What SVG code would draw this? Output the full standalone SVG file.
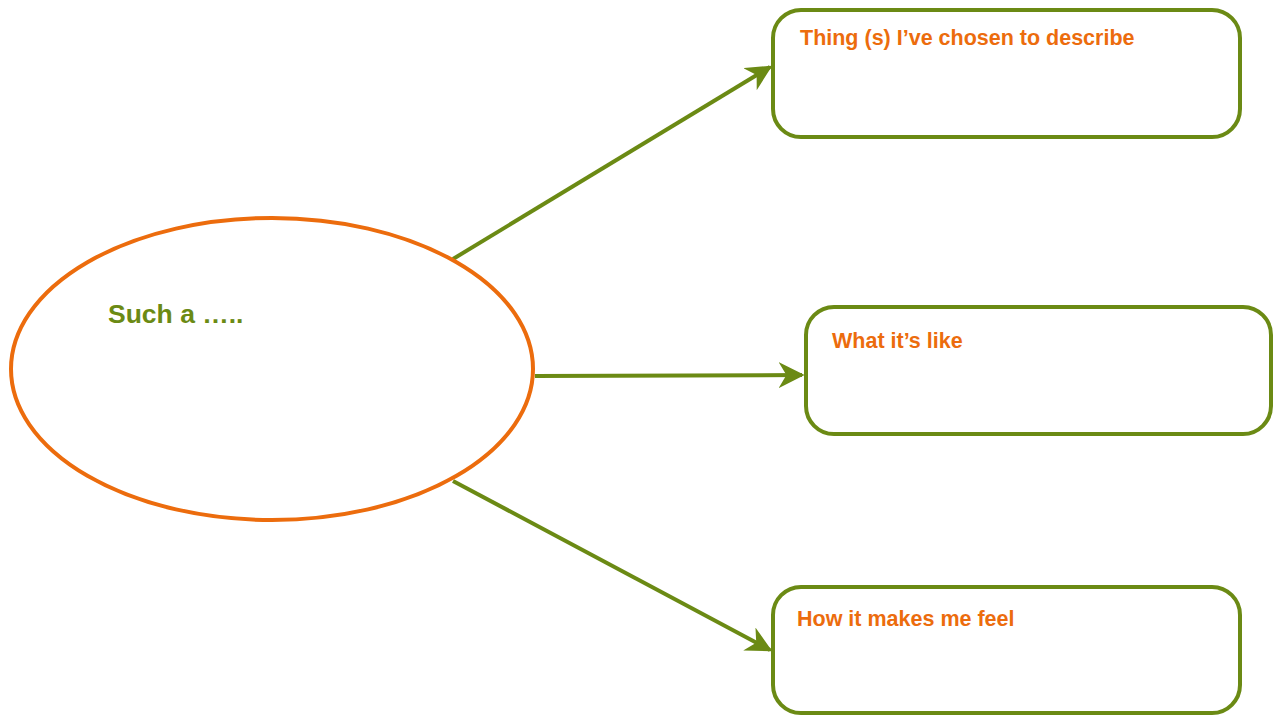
<svg xmlns="http://www.w3.org/2000/svg" width="1274" height="715" viewBox="0 0 1274 715">
<style>
.box{fill:#fff;stroke:#6B8A14;stroke-width:4}
.oval{fill:#fff;stroke:#EC6C0D;stroke-width:4}
.lbl{font-family:"Liberation Sans",Arial,sans-serif;font-weight:bold;font-size:21.5px;fill:#EC6C0D}
.main{font-family:"Liberation Sans",Arial,sans-serif;font-weight:bold;font-size:26.5px;fill:#6B8A14}
.conn{stroke:#6B8A14;stroke-width:4;fill:none}
</style>
<defs>
<marker id="ah" viewBox="0 0 10 10" refX="9" refY="5" markerWidth="6.5" markerHeight="6.5" markerUnits="strokeWidth" orient="auto">
<path d="M0,0 L10,5 L0,10 L3,5 Z" fill="#6B8A14"/>
</marker>
</defs>
<rect width="1274" height="715" fill="#fff"/>
<g id="connectors">
<line class="conn" x1="453" y1="259" x2="770" y2="67" marker-end="url(#ah)"/>
<line class="conn" x1="535" y1="376" x2="802" y2="375" marker-end="url(#ah)"/>
<line class="conn" x1="453" y1="481" x2="770" y2="650" marker-end="url(#ah)"/>
</g>
<g id="center">
<ellipse class="oval" cx="272" cy="369" rx="261" ry="151"/>
<text class="main" x="108" y="323">Such a …..</text>
</g>
<g id="thing">
<rect class="box" x="773" y="10" width="467" height="127" rx="28"/>
<text class="lbl" x="800" y="45">Thing (s) I’ve chosen to describe</text>
</g>
<g id="like">
<rect class="box" x="806" y="307" width="465" height="127" rx="28"/>
<text class="lbl" x="832" y="348">What it’s like</text>
</g>
<g id="feel">
<rect class="box" x="773" y="587" width="467" height="126" rx="28"/>
<text class="lbl" x="797" y="626">How it makes me feel</text>
</g>
</svg>
